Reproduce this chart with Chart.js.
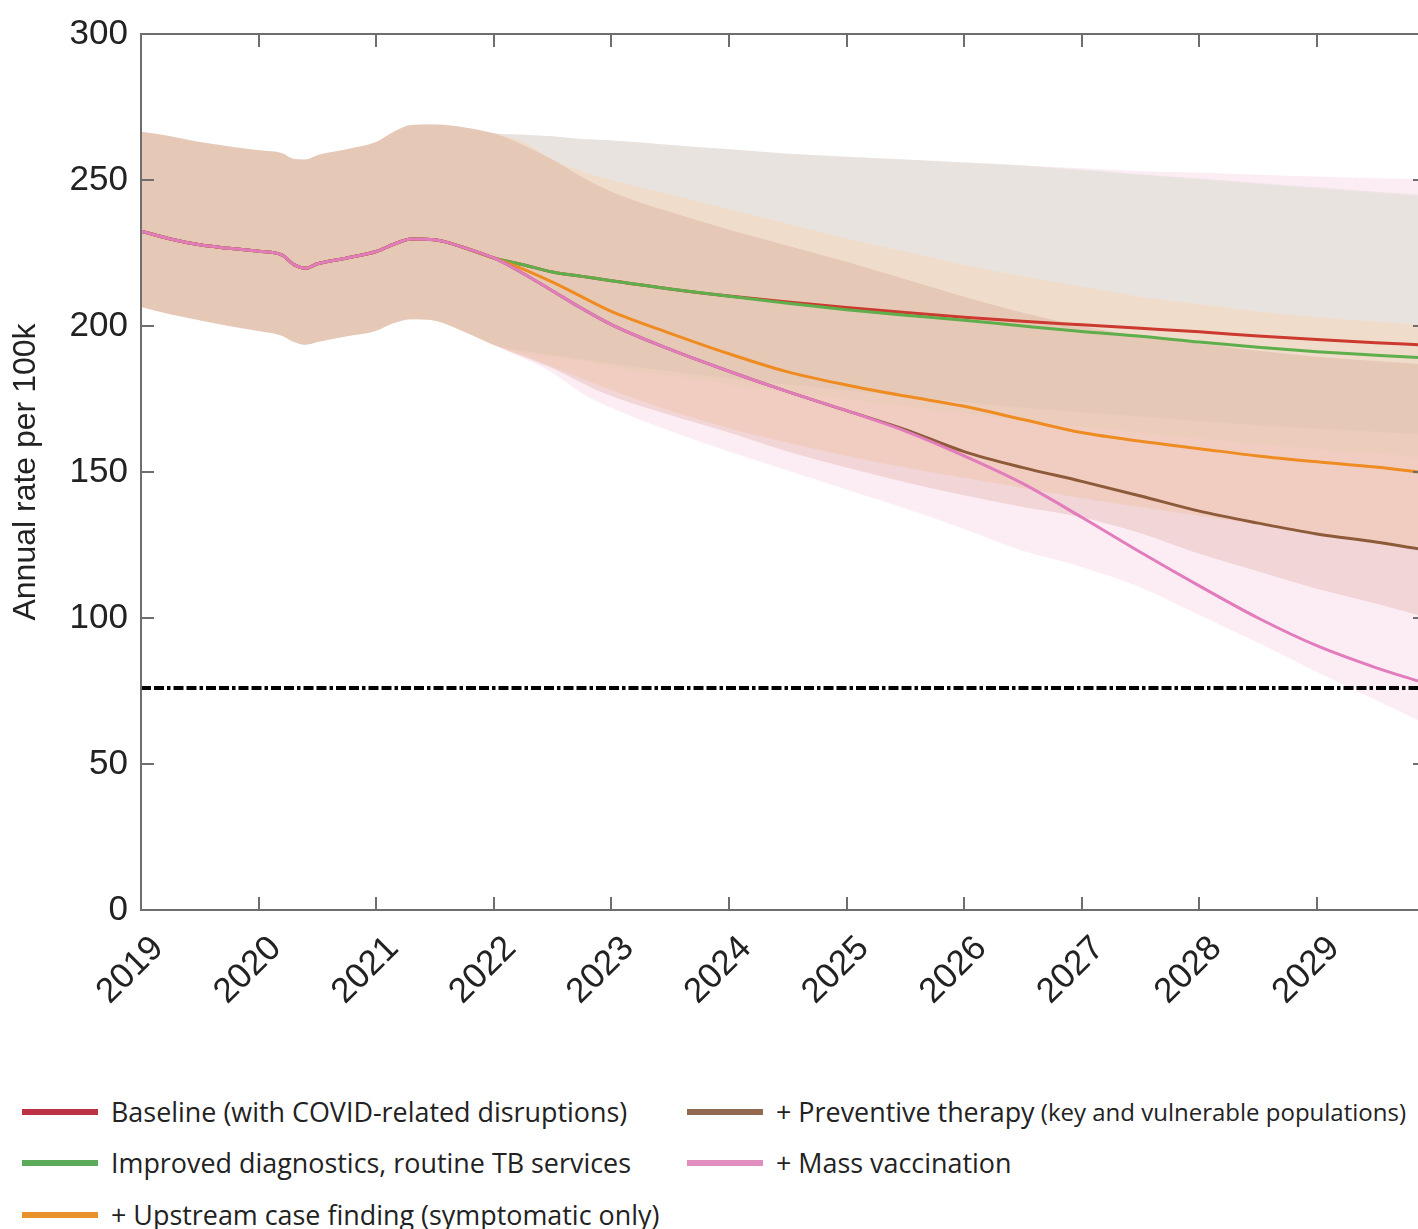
<!DOCTYPE html>
<html>
<head>
<meta charset="utf-8">
<script src="https://cdn.jsdelivr.net/npm/chart.js@4.4.0/dist/chart.umd.min.js"></script>
<style>
  body { margin: 0; background: #fff; width: 1418px; height: 1229px; overflow: hidden; position: relative; }
  #wrap { position: absolute; left: 0; top: 0; width: 1418px; height: 1060px; }
  .legend-item { position: absolute; height: 36px; line-height: 36px; white-space: nowrap; font-family: 'Open Sans', sans-serif; font-size: 26.9px; color: #222; display: flex; align-items: center; }
  .swatch { display: inline-block; width: 76px; height: 6px; margin-right: 13px; }
  .small { font-size: 24px; }
</style>
</head>
<body>
<div id="wrap"><canvas id="chart" width="1418" height="1060"></canvas></div>
<div id="legend"></div>
<script>
// x positions (years)
const years = [2019, 2019.25, 2019.5, 2019.75, 2020, 2020.2, 2020.3, 2020.4, 2020.5, 2020.75, 2021, 2021.15, 2021.3, 2021.5, 2021.75, 2022,
  2022.25, 2022.5, 2022.75, 2023, 2023.5, 2024, 2024.5, 2025, 2025.5, 2026, 2026.5, 2027, 2027.5, 2028, 2028.5, 2029, 2029.5, 2029.86];
const xTicks = [2019, 2020, 2021, 2022, 2023, 2024, 2025, 2026, 2027, 2028, 2029];
const yTicks = [0, 50, 100, 150, 200, 250, 300];
const target = 76;

// shared history 2019-2022
const hist = [232.5, 229.8, 227.8, 226.6, 225.6, 224.3, 221, 219.8, 221.3, 223.3, 225.5, 228, 229.8, 229.5, 226.8, 223.3];
const histHigh = [266.5, 265, 263, 261.5, 260.2, 259.2, 257.2, 257, 258.5, 260.5, 263, 266.5, 268.8, 269, 268, 266];
const histLow = [206.5, 204, 202, 200, 198.3, 196.7, 194.5, 193.6, 194.5, 196.5, 198.4, 201, 202.3, 201.8, 198, 193.5];

// projections 2022.25 onwards
const baseline = [221, 218.5, 217, 215.5, 212.7, 210.3, 208.2, 206.3, 204.6, 203, 201.6, 200.4, 199.2, 198, 196.6, 195.4, 194.3, 193.6];
const diagnostics = [221, 218.5, 217, 215.5, 212.7, 210.2, 207.8, 205.6, 203.7, 202, 200, 198.1, 196.5, 194.5, 192.7, 191.2, 190, 189.2];
const upstream = [219.5, 215, 210, 205, 197.5, 190.5, 184.3, 179.8, 176, 172.5, 168, 163.5, 160.5, 158, 155.5, 153.5, 151.7, 150];
const preventive = [218, 212, 206, 200.5, 192, 184.5, 177.5, 171, 164.5, 157, 151.5, 146.8, 141.8, 136.6, 132.5, 128.8, 126, 123.7];
const vaccination = [218, 212, 206, 200.5, 192, 184.5, 177.5, 171, 164, 155.5, 146, 134.5, 122.5, 111, 100, 90.5, 83, 78.4];

const baselineHigh = [265.5, 265, 264, 263.5, 262, 260.5, 259, 258, 257, 256, 255, 253.5, 252, 250.5, 249, 247.5, 246, 245];
const baselineLow = [191.5, 190, 188.5, 187, 184.5, 182, 180, 178, 176, 174, 172, 170.5, 169, 167.5, 166, 164.8, 163.8, 163];
const diagnosticsHigh = [265.5, 265, 264, 263.5, 262, 260.5, 259, 258, 257, 256, 255, 253.3, 251.8, 250.2, 248.6, 247, 245.6, 244.5];
const diagnosticsLow = [191, 189.5, 188, 186, 183, 180, 177.5, 175, 172.5, 170, 167.5, 165.5, 163.5, 161.5, 159.5, 157.8, 156.3, 155];
const upstreamHigh = [263, 257, 253, 250, 245, 240, 235, 230, 225.5, 221, 217, 213.5, 210, 207.5, 205, 203, 201.5, 200.5];
const upstreamLow = [190, 186, 182, 178, 171, 165, 160, 155.5, 151.5, 148, 144.5, 141, 138, 135, 132, 129, 126.3, 124.5];
const preventiveHigh = [262, 257, 251, 246, 239, 233, 227.5, 222, 216, 210, 204.5, 200, 196.5, 194, 191.5, 189.5, 188, 187];
const preventiveLow = [189.5, 185.5, 180.5, 176, 169.5, 163.5, 157, 151.5, 146.5, 142, 138, 134.5, 129, 122, 116, 110, 105, 101];
const vaccinationHigh = [265.5, 265, 264, 263.5, 262, 260.5, 259, 258, 257, 256, 255, 254, 253, 252.5, 251.8, 251.2, 250.6, 250.3];
const vaccinationLow = [189, 184, 177, 172, 164, 157, 150.5, 144, 137.5, 130.5, 123, 117.5, 110.5, 101, 91.5, 81.5, 72, 65];

const scenarios = [
  { label: 'Baseline (with COVID-related disruptions)', mid: baseline, hi: baselineHigh, lo: baselineLow, line: '#cc3a2f', key: '#bb3244', band: 'rgba(190,200,190,0.22)', order: 5, bandOrder: 14 },
  { label: 'Improved diagnostics, routine TB services', mid: diagnostics, hi: diagnosticsHigh, lo: diagnosticsLow, line: '#5fae4c', key: '#5bab5b', band: 'rgba(215,225,195,0.25)', order: 4, bandOrder: 13 },
  { label: '+ Upstream case finding (symptomatic only)', mid: upstream, hi: upstreamHigh, lo: upstreamLow, line: '#ee8c22', key: '#e9922c', band: 'rgba(255,205,160,0.3)', order: 3, bandOrder: 12 },
  { label: '+ Preventive therapy', extra: '(key and vulnerable populations)', mid: preventive, hi: preventiveHigh, lo: preventiveLow, line: '#8e5b3a', key: '#926b4f', band: 'rgba(195,120,100,0.2)', order: 2, bandOrder: 11 },
  { label: '+ Mass vaccination', mid: vaccination, hi: vaccinationHigh, lo: vaccinationLow, line: '#e27cbd', key: '#e08ebd', band: 'rgba(240,150,190,0.18)', order: 1, bandOrder: 15 }
];

const pts = arr => years.map((x, i) => ({ x: x, y: arr[i] }));

const datasets = [];
scenarios.forEach(s => {
  datasets.push({ data: pts(hist.concat(s.mid)), borderColor: s.line, borderWidth: 3, fill: false, order: s.order, cubicInterpolationMode: 'monotone' });
});
scenarios.forEach(s => {
  datasets.push({ data: pts(histHigh.concat(s.hi)), borderWidth: 0, borderColor: 'transparent', backgroundColor: s.band, fill: '+1', order: s.bandOrder, cubicInterpolationMode: 'monotone' });
  datasets.push({ data: pts(histLow.concat(s.lo)), borderWidth: 0, borderColor: 'transparent', fill: false, order: s.bandOrder, cubicInterpolationMode: 'monotone' });
});
datasets.push({ data: [{ x: years[0], y: target }, { x: years[years.length - 1], y: target }], borderColor: '#000', borderWidth: 4, borderDash: [10, 3, 10, 3, 3.5, 3], fill: false, order: 0 });

// Box with inward ticks, MATLAB style
const frame = {
  id: 'frame',
  afterDatasetsDraw(chart) {
    const { ctx, chartArea: a, scales: { x, y } } = chart;
    ctx.save();
    ctx.strokeStyle = '#6e6e6e';
    ctx.lineWidth = 2;
    ctx.beginPath();
    ctx.moveTo(a.right + 20, a.top); ctx.lineTo(a.left, a.top);
    ctx.lineTo(a.left, a.bottom); ctx.lineTo(a.right + 20, a.bottom);
    xTicks.forEach(v => {
      const px = Math.round(x.getPixelForValue(v));
      ctx.moveTo(px, a.bottom); ctx.lineTo(px, a.bottom - 13);
      ctx.moveTo(px, a.top); ctx.lineTo(px, a.top + 13);
    });
    yTicks.forEach(v => {
      const py = Math.round(y.getPixelForValue(v));
      ctx.moveTo(a.left, py); ctx.lineTo(a.left + 13, py);
      ctx.moveTo(a.right, py); ctx.lineTo(a.right - 5, py);
    });
    ctx.stroke();
    ctx.restore();
  }
};

Chart.defaults.font.family = "'Liberation Sans', Arial, sans-serif";

new Chart(document.getElementById('chart'), {
  type: 'line',
  data: { datasets: datasets },
  options: {
    responsive: false,
    animation: false,
    layout: { padding: { top: 28, right: 0, left: 0, bottom: 0 } },
    elements: { point: { radius: 0 } },
    plugins: {
      legend: { display: false },
      tooltip: { enabled: false },
      filler: { drawTime: 'beforeDatasetsDraw' }
    },
    scales: {
      x: {
        type: 'linear', min: 2019, max: 2029.86,
        afterBuildTicks: s => { s.ticks = xTicks.map(v => ({ value: v })); },
        afterFit: s => { s.height = 150; },
        grid: { display: false, drawTicks: false }, border: { display: false },
        ticks: { autoSkip: false, minRotation: 45, maxRotation: 45, padding: 18, labelOffset: 17, color: '#222', font: { size: 35 }, callback: v => String(v) }
      },
      y: {
        min: 0, max: 300,
        afterBuildTicks: s => { s.ticks = yTicks.map(v => ({ value: v })); },
        afterFit: s => { s.width = 141; },
        grid: { display: false, drawTicks: false }, border: { display: false },
        ticks: { padding: 13, color: '#222', font: { size: 35 } },
        title: { display: true, text: 'Annual rate per 100k', color: '#222', font: { size: 32 }, padding: { top: 7, bottom: 0 } }
      }
    }
  },
  plugins: [frame]
});

// legend, two columns
const legendPos = [[22, 1094], [22, 1145], [22, 1197], [687, 1094], [687, 1145]];
const legend = document.getElementById('legend');
scenarios.forEach((s, i) => {
  const div = document.createElement('div');
  div.className = 'legend-item';
  div.style.left = legendPos[i][0] + 'px';
  div.style.top = legendPos[i][1] + 'px';
  div.innerHTML = `<span class="swatch" style="background:${s.key}"></span><span>${s.label}</span>` +
    (s.extra ? `<span class="small">&nbsp;${s.extra}</span>` : '');
  legend.appendChild(div);
});
</script>
</body>
</html>
